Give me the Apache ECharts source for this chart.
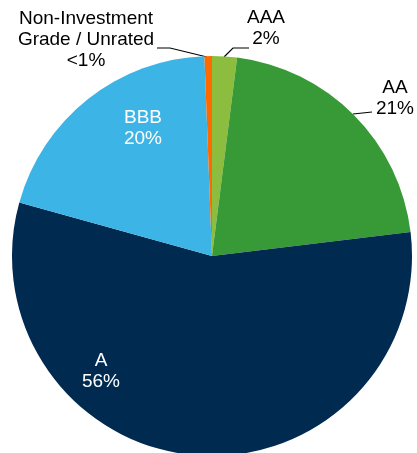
<!DOCTYPE html>
<html>
<head>
<meta charset="utf-8">
<script src="https://cdn.jsdelivr.net/npm/echarts@6/dist/echarts.min.js"></script>
<style>
  html, body { margin: 0; padding: 0; background: #fff; }
  #main { width: 417px; height: 453px; }
</style>
</head>
<body>
<div id="main"></div>
<script>
// ratings breakdown, clockwise from 12 o'clock
var ratings = ['AAA', 'AA', 'A', 'BBB', 'Non-Investment\nGrade / Unrated'];
var shares = [2, 21, 56, 20, 0.6];
var shareLabels = ['2%', '21%', '56%', '20%', '<1%'];
var colors = ['#8dbd3e', '#379a37', '#002a50', '#3db4e6', '#ff6a00'];

// where each label sits (x, y) and its leader line, if any
var labelPos = [[266, 28], [395, 98], [101, 371], [143, 128], [86, 40]];
var linePts = [
    [[224, 57], [233, 48], [249, 48]],
    [[353, 114], [372, 112]],
    null,
    null,
    [[207, 57], [170, 48], [157, 48]]
];
var inside = [false, false, true, true, false];

var chart = echarts.init(document.getElementById('main'));

var data = ratings.map(function (name, i) {
    return {
        name: name,
        value: shares[i],
        itemStyle: { color: colors[i] },
        label: {
            position: inside[i] ? 'inside' : 'outside',
            color: inside[i] ? '#ffffff' : '#000000'
        },
        labelLine: { show: !inside[i] }
    };
});

var option = {
    animation: false,
    series: [
        {
            type: 'pie',
            center: [212, 256],
            radius: 200,
            startAngle: 90,
            clockwise: true,
            avoidLabelOverlap: false,
            label: {
                show: true,
                fontFamily: 'Liberation Sans, Arial, sans-serif',
                fontSize: 19,
                lineHeight: 21,
                align: 'center',
                formatter: function (p) {
                    return p.name + '\n' + shareLabels[p.dataIndex];
                }
            },
            labelLine: {
                show: true,
                lineStyle: { color: '#000000', width: 1.2 }
            },
            labelLayout: function (p) {
                var i = p.dataIndex;
                var out = {
                    x: labelPos[i][0],
                    y: labelPos[i][1],
                    align: 'center',
                    verticalAlign: 'middle'
                };
                if (linePts[i]) out.labelLinePoints = linePts[i];
                return out;
            },
            data: data
        }
    ]
};

option && chart.setOption(option);
</script>
</body>
</html>
